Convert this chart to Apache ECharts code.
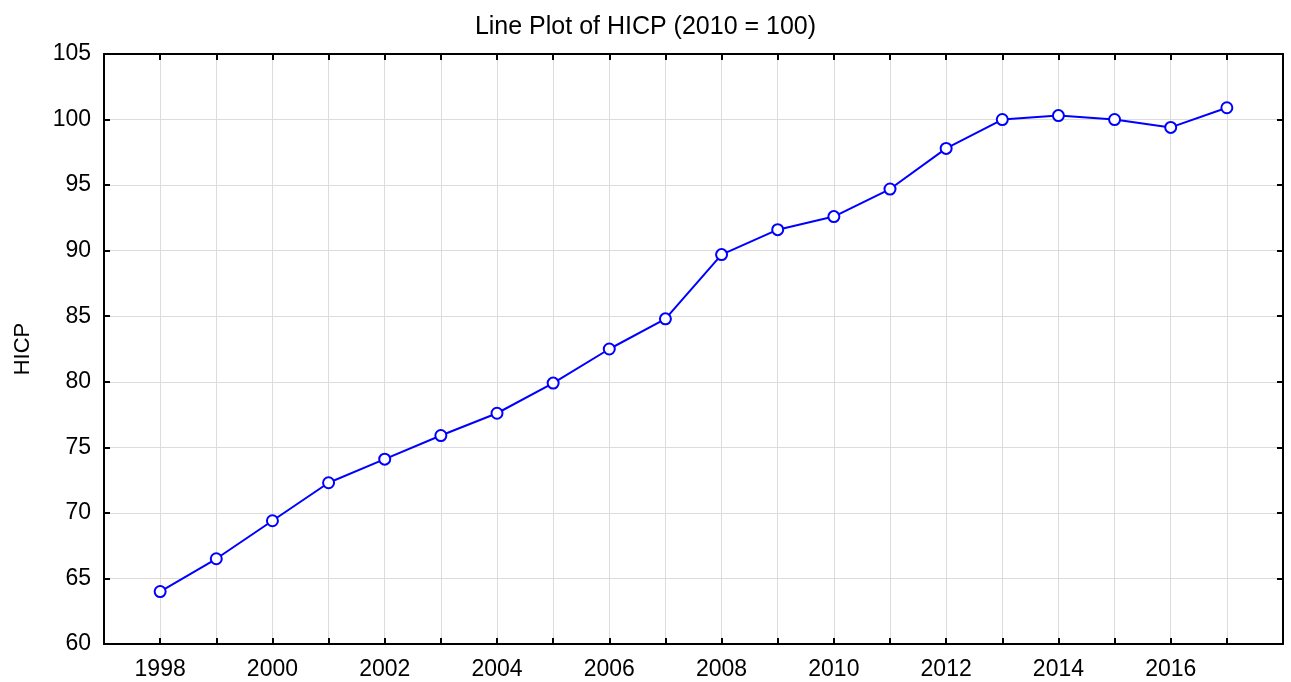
<!DOCTYPE html>
<html>
<head>
<meta charset="utf-8">
<title>HICP</title>
<script src="https://cdn.jsdelivr.net/npm/echarts@6/dist/echarts.min.js"></script>
<style>
  html, body { margin: 0; padding: 0; background: #fff; }
  #main { width: 1291px; height: 682px; }
</style>
</head>
<body>
<div id="main"></div>
<script>
// data
var years = [1998, 1999, 2000, 2001, 2002, 2003, 2004, 2005, 2006, 2007,
             2008, 2009, 2010, 2011, 2012, 2013, 2014, 2015, 2016, 2017];
var hicp = [64.0, 66.5, 69.4, 72.3, 74.1, 75.9, 77.6, 79.9, 82.5, 84.8,
            89.7, 91.6, 92.6, 94.7, 97.8, 100.0, 100.3, 100.0, 99.4, 100.9];
var yearLabels = ['1998', '2000', '2002', '2004', '2006', '2008', '2010', '2012', '2014', '2016'];

var font = 'Liberation Sans, Arial, sans-serif';

var myChart = echarts.init(document.getElementById('main'));

var pts = years.map(function (y, i) { return [y, hicp[i]]; });

var boxAxis = {
    axisLine: { show: true, lineStyle: { color: '#000', width: 2 } },
    axisTick: { show: true, inside: true, length: 6, lineStyle: { color: '#000', width: 2 } }
};

var option = {
    backgroundColor: '#fff',
    animation: false,
    title: {
        text: 'Line Plot of HICP (2010 = 100)',
        left: 'center',
        top: 10,
        textStyle: { fontFamily: font, fontSize: 25, fontWeight: 'normal', color: '#000' }
    },
    grid: { left: 104, right: 8, top: 54, bottom: 38 },
    xAxis: [
        {
            type: 'value', min: 1997, max: 2018, interval: 1,
            position: 'bottom',
            axisLine: boxAxis.axisLine,
            axisTick: boxAxis.axisTick,
            splitLine: { show: true, lineStyle: { color: '#dcdcdc', width: 1 } },
            axisLabel: {
                fontFamily: font, fontSize: 23, color: '#000', margin: 14,
                formatter: function (v) {
                    return yearLabels.indexOf(String(v)) >= 0 ? String(v) : '';
                }
            }
        },
        {
            type: 'value', min: 1997, max: 2018, interval: 1,
            position: 'top',
            axisLine: boxAxis.axisLine,
            axisTick: boxAxis.axisTick,
            splitLine: { show: false },
            axisLabel: { show: false }
        }
    ],
    yAxis: [
        {
            type: 'value', min: 60, max: 105, interval: 5,
            position: 'left',
            name: 'HICP',
            nameLocation: 'middle',
            nameGap: 70,
            nameTextStyle: { fontFamily: font, fontSize: 22, color: '#000' },
            axisLine: boxAxis.axisLine,
            axisTick: boxAxis.axisTick,
            splitLine: { show: true, lineStyle: { color: '#dcdcdc', width: 1 } },
            axisLabel: { fontFamily: font, fontSize: 23, color: '#000', margin: 13 }
        },
        {
            type: 'value', min: 60, max: 105, interval: 5,
            position: 'right',
            axisLine: boxAxis.axisLine,
            axisTick: boxAxis.axisTick,
            splitLine: { show: false },
            axisLabel: { show: false }
        }
    ],
    series: [
        {
            name: 'HICP',
            type: 'line',
            data: pts,
            symbol: 'circle',
            symbolSize: 11,
            itemStyle: { color: '#fff', borderColor: '#0000ff', borderWidth: 2 },
            lineStyle: { color: '#0000ff', width: 2 }
        }
    ]
};

myChart.setOption(option);
</script>
</body>
</html>
